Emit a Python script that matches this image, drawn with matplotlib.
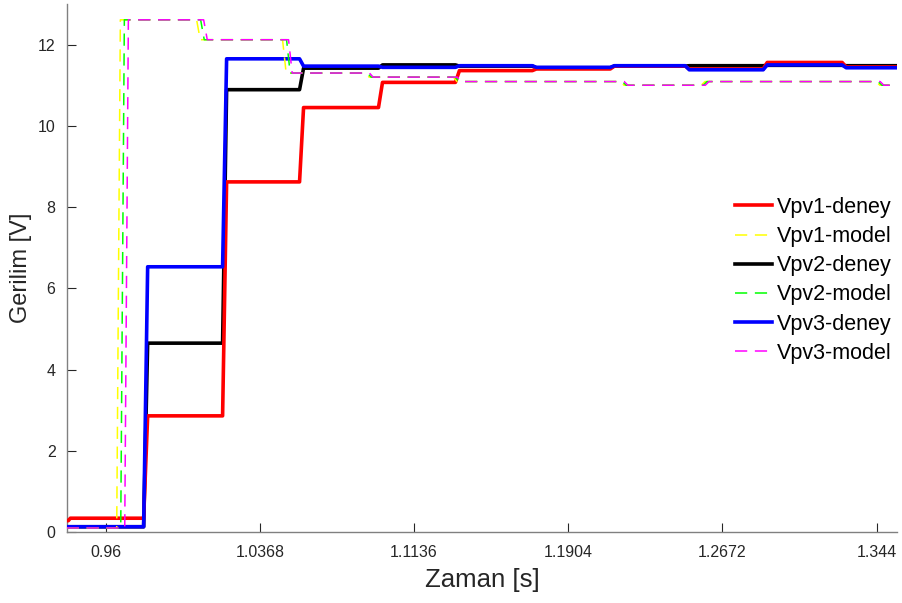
import matplotlib
matplotlib.use("Agg")
import matplotlib.pyplot as plt
import numpy as np

# ---------------- data ----------------
# experimental ("deney") step times [s] and levels [V]
deney_steps = [0.97891, 1.01824, 1.05657, 1.09589, 1.13422, 1.17254,
               1.21137, 1.24870, 1.28753, 1.32685]
vpv1_deney = [0.34, 2.86, 8.62, 10.45, 11.07, 11.36, 11.40, 11.47, 11.40, 11.56, 11.45]
vpv2_deney = [0.13, 4.65, 10.89, 11.42, 11.50, 11.47, 11.43, 11.47, 11.48, 11.49, 11.48]
vpv3_deney = [0.13, 6.53, 11.65, 11.47, 11.44, 11.48, 11.44, 11.48, 11.38, 11.50, 11.43]
vpv1_start = 0.28          # red level before its first small step
vpv1_first_step = 0.9414

# model step times [s] and levels [V]
model_levels = [0.10, 12.61, 12.12, 11.30, 11.20, 11.09, 11.00, 11.09, 11.00]
vpv1_model_steps = [0.9655, 1.0053, 1.0481, 1.0894, 1.1332, 1.2164, 1.2567, 1.3438]
vpv2_model_steps = [0.9675, 1.0073, 1.0501, 1.0904, 1.1342, 1.2174, 1.2577, 1.3448]
vpv3_model_steps = [0.9695, 1.0088, 1.0511, 1.0914, 1.1352, 1.2183, 1.2587, 1.3458]

t_start, t_end = 0.9406, 1.3542
xticks = [0.96, 1.0368, 1.1136, 1.1904, 1.2672, 1.344]
xticklabels = ["0.96", "1.0368", "1.1136", "1.1904", "1.2672", "1.344"]
yticks = [0, 2, 4, 6, 8, 10, 12]


def step_path(steps, levels, t0, t1, ramp):
    t = [t0]
    v = [levels[0]]
    for i, ts in enumerate(steps):
        t += [ts, ts + ramp]
        v += [levels[i], levels[i + 1]]
    t.append(t1)
    v.append(levels[-1])
    return np.array(t), np.array(v)


plt.rcParams['font.family'] = ['Liberation Sans', 'DejaVu Sans']

fig = plt.figure(figsize=(9.03, 6.03), dpi=100)
ax = fig.add_axes([0.0739, 0.1177, 0.9195, 0.8757])

lw_d = 2.6
lw_m = 1.1
dash = (8, 5)

# red deney with initial small step
t1, v1 = step_path(deney_steps, vpv1_deney, vpv1_first_step + 0.001, t_end, 0.002)
t1 = np.concatenate([[t_start, vpv1_first_step], t1])
v1 = np.concatenate([[vpv1_start, vpv1_start], v1])
t2, v2 = step_path(deney_steps, vpv2_deney, t_start, t_end, 0.002)
t3, v3 = step_path(deney_steps, vpv3_deney, t_start, t_end, 0.002)

tm1, vm1 = step_path(vpv1_model_steps, model_levels, t_start, t_end, 0.0018)
tm2, vm2 = step_path(vpv2_model_steps, model_levels, t_start, t_end, 0.0018)
tm3, vm3 = step_path(vpv3_model_steps, model_levels, t_start, t_end, 0.0018)

l1, = ax.plot(t1, v1, color='#ff0000', lw=lw_d, label='Vpv1-deney', zorder=3)
l2, = ax.plot(tm1, vm1, color='#ffff00', lw=lw_m, dashes=dash, label='Vpv1-model', zorder=4)
l3, = ax.plot(t2, v2, color='#000000', lw=lw_d, label='Vpv2-deney', zorder=2.5)
l4, = ax.plot(tm2, vm2, color='#00ff00', lw=lw_m, dashes=dash, label='Vpv2-model', zorder=4.1)
l5, = ax.plot(t3, v3, color='#0000ff', lw=lw_d, label='Vpv3-deney', zorder=3.5)
l6, = ax.plot(tm3, vm3, color='#ff00ff', lw=lw_m, dashes=dash, label='Vpv3-model', zorder=4.2)

ax.set_xlim(t_start, t_end)
ax.set_ylim(0, 13)
ax.set_xticks(xticks)
ax.set_xticklabels(xticklabels)
ax.set_yticks(yticks)

for s in ['top', 'right']:
    ax.spines[s].set_visible(False)
for s in ['left', 'bottom']:
    ax.spines[s].set_color('#808080')
    ax.spines[s].set_linewidth(1.0)

ax.tick_params(direction='in', length=6.5, width=0.8, color='#262626',
               labelsize=11.5, labelcolor='#262626')
ax.tick_params(axis='x', pad=9)
ax.tick_params(axis='y', pad=8)

ax.set_xlabel('Zaman [s]', fontsize=18.5, color='#262626', labelpad=6)
ax.set_ylabel('Gerilim [V]', fontsize=17, color='#262626', labelpad=4)

leg = ax.legend(handles=[l1, l2, l3, l4, l5, l6], loc='center left',
                bbox_to_anchor=(0.8135, 0.535), bbox_transform=fig.transFigure,
                frameon=False, fontsize=15.5, handlelength=1.75, handletextpad=0.2,
                labelspacing=0.38, borderaxespad=0.0, borderpad=0.0)

fig.savefig('out.png', dpi=100)
